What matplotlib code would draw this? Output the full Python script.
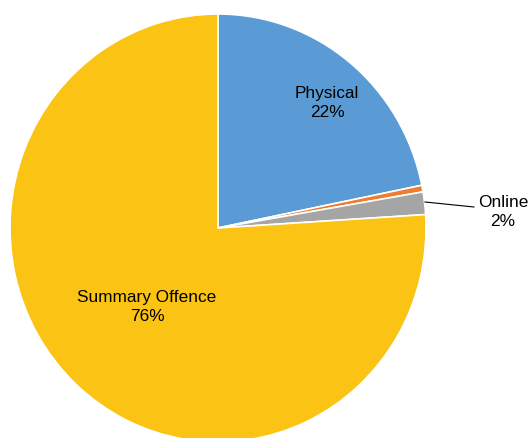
import matplotlib.pyplot as plt

plt.rcParams['font.family'] = ['Liberation Sans', 'DejaVu Sans']

categories = ['Physical', 'Other', 'Online', 'Summary Offence']
shares = [21.8, 0.5, 1.7, 76.0]
colors = ['#5B9BD5', '#ED7D31', '#A5A5A5', '#FBC314']

W, H = 528, 439
cx, cy = 218, 229      # pie centre, pixels
rx, ry = 208, 214      # pie radii, pixels


def px(x, y):
    return (x - cx) / rx, (cy - y) / ry


fig = plt.figure(figsize=(W / 100, H / 100), dpi=100)
ax = fig.add_axes([0, 0, 1, 1])
ax.pie(shares, colors=colors, startangle=90, counterclock=False, radius=1,
       wedgeprops=dict(edgecolor='white', linewidth=1.2))
ax.set_aspect('auto')
ax.set_xlim(-cx / rx, (W - cx) / rx)
ax.set_ylim(-(H - cy) / ry, cy / ry)
ax.axis('off')

fs = 12.4
ax.text(*px(327, 103), f'{categories[0]}\n{round(shares[0])}%', ha='center', va='center',
        fontsize=fs, linespacing=1.3)
ax.text(*px(147, 307), f'{categories[3]}\n{round(shares[3])}%', ha='center', va='center',
        fontsize=fs, linespacing=1.3)
ax.text(*px(503, 212), f'{categories[2]}\n{round(shares[2])}%', ha='center', va='center',
        fontsize=fs, linespacing=1.3)

x0, y0 = px(425, 203)
x1, y1 = px(474, 208)
ax.plot([x0, x1], [y0, y1], color='black', linewidth=0.8)

fig.savefig('out.png', dpi=100)
